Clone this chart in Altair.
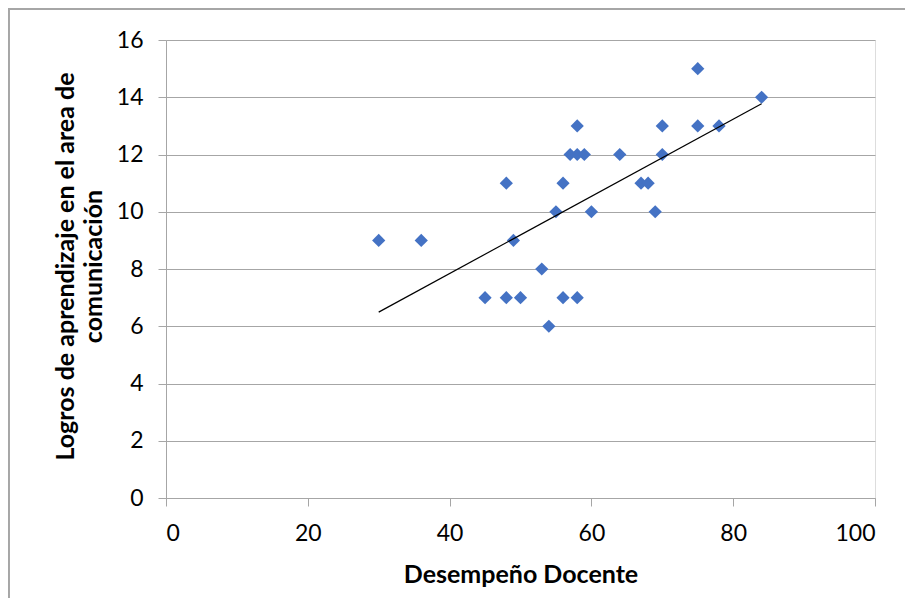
import altair as alt
import pandas as pd

desempeno = [30, 36, 45, 48, 48, 49, 50, 53, 54, 55, 56, 56, 57, 58, 58, 58, 59, 60,
             64, 67, 68, 69, 70, 70, 75, 75, 78, 84]
logros = [9, 9, 7, 11, 7, 9, 7, 8, 6, 10, 11, 7, 12, 13, 12, 7, 12, 10,
          12, 11, 11, 10, 13, 12, 15, 13, 13, 14]

df = pd.DataFrame({"x": desempeno, "y": logros})

FONT = "Lato"
GRAY = "#a6a6a6"
W, H = 709, 458

xenc = alt.X("x:Q",
             scale=alt.Scale(domain=[0, 100], nice=False),
             axis=alt.Axis(values=[0, 20, 40, 60, 80, 100], grid=False,
                           domainColor=GRAY, tickColor=GRAY, tickSize=8,
                           labelFont=FONT, labelFontSize=23, labelColor="black",
                           labelPadding=16,
                           title="Desempeño Docente", titleFont=FONT, titleFontSize=25,
                           titleFontWeight="bold", titleColor="black",
                           titleBaseline="alphabetic", titleY=84))
yenc = alt.Y("y:Q",
             scale=alt.Scale(domain=[0, 16], nice=False),
             axis=alt.Axis(values=[0, 2, 4, 6, 8, 10, 12, 14, 16], grid=True,
                           gridColor=GRAY, domainColor=GRAY, tickColor=GRAY, tickSize=8,
                           labelFont=FONT, labelFontSize=23, labelColor="black",
                           labelPadding=15,
                           title=["Logros de aprendizaje en el area de", "comunicación"],
                           titleFont=FONT, titleFontSize=25, titleFontWeight="bold",
                           titleColor="black", titleLineHeight=28,
                           titleBaseline="top", titleAlign="center", titleAngle=270,
                           titleX=-113, titleY=H / 2 - 3))

points = alt.Chart(df).mark_point(shape="diamond", filled=True, size=175,
                                  color="#4472C4", opacity=1).encode(x=xenc, y=yenc)

trend = alt.Chart(df).transform_regression("x", "y").mark_line(
    color="black", strokeWidth=1.2).encode(x="x:Q", y="y:Q")

border_left = alt.Chart(df).mark_rule(color=GRAY, strokeWidth=1.5).encode(
    x=alt.value(-157.5), y=alt.value(-31), y2=alt.value(H + 200))
border_top = alt.Chart(df).mark_rule(color=GRAY, strokeWidth=1.5).encode(
    x=alt.value(-157.5), x2=alt.value(W + 200), y=alt.value(-31))

chart = alt.layer(points, trend, border_left, border_top).properties(
    width=W, height=H,
    autosize=alt.AutoSizeParams(type="none"),
    padding={"left": 158, "top": 32, "right": 30, "bottom": 100},
).configure_view(stroke=None).configure(background="white")

chart.save("out.html", embed_options={"renderer": "svg", "actions": False})
